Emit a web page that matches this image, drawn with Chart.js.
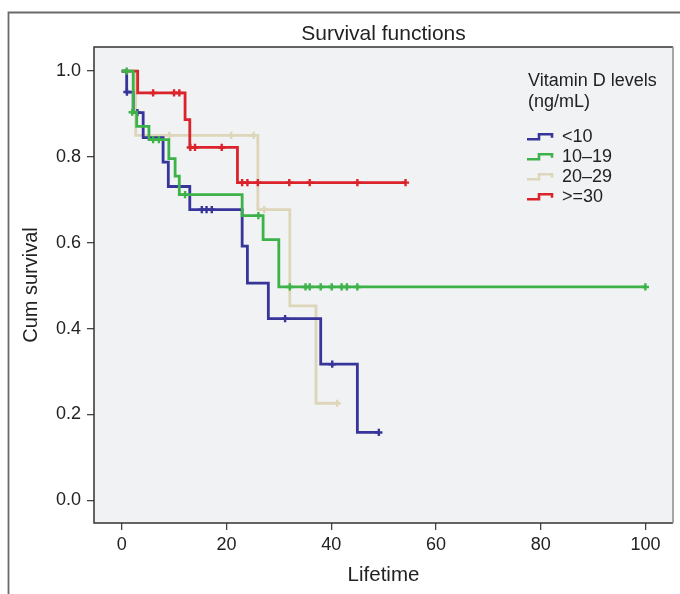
<!DOCTYPE html>
<html><head><meta charset="utf-8">
<script src="https://cdn.jsdelivr.net/npm/chart.js@4/dist/chart.umd.min.js"></script>
<style>html,body{margin:0;padding:0;background:#fff;overflow:hidden}canvas{display:block}</style>
</head><body>
<canvas id="c" width="680" height="594"></canvas>
<script>
const chartTitle = "Survival functions";
const xAxisTitle = "Lifetime";
const yAxisTitle = "Cum survival";
const legendTitle = ["Vitamin D levels", "(ng/mL)"];
const groupLabels = ["<10", "10\u201319", "20\u201329", ">=30"];
const groupColors = ["#37349a", "#3cb248", "#ddd6ba", "#da232a"];
const xTicks = [0, 20, 40, 60, 80, 100];
const yTicks = [0.0, 0.2, 0.4, 0.6, 0.8, 1.0];

// Kaplan-Meier steps: time of event and survival after it
const lt10Time = [0, 0.95, 2.2, 4.1, 7.9, 8.9, 13.0, 23.0, 24.0, 28.0, 38.0, 45.0, 49.1];
const lt10Surv = [1.0, 0.951, 0.903, 0.845, 0.788, 0.731, 0.677, 0.592, 0.506, 0.423, 0.317, 0.158, 0.158];
const lt10CensTime = [1.0, 3.0, 15.3, 16.2, 17.2, 31.2, 40.2, 49.1];
const lt10CensSurv = [0.951, 0.903, 0.677, 0.677, 0.677, 0.423, 0.317, 0.158];

const g10Time = [0, 2.2, 2.86, 5.2, 9.0, 10.2, 11.0, 23.0, 27.0, 30.0, 100];
const g10Surv = [1.0, 0.904, 0.871, 0.840, 0.796, 0.755, 0.712, 0.663, 0.607, 0.497, 0.497];
const g10CensTime = [0.95, 2.0, 6.0, 7.1, 12.1, 26.1, 32.1, 35.1, 35.9, 38.0, 40.1, 42.0, 43.0, 45.0, 100];
const g10CensSurv = [1.0, 0.904, 0.840, 0.840, 0.712, 0.663, 0.497, 0.497, 0.497, 0.497, 0.497, 0.497, 0.497, 0.497, 0.497];

const g20Time = [0, 2.67, 26.0, 32.1, 37.1, 41.15];
const g20Surv = [1.0, 0.850, 0.677, 0.453, 0.226, 0.226];
const g20CensTime = [9.1, 20.9, 25.2, 27.2, 41.15];
const g20CensSurv = [0.850, 0.850, 0.850, 0.677, 0.226];

const g30Time = [0, 3.05, 12.1, 13.0, 22.1, 54.2];
const g30Surv = [1.0, 0.949, 0.887, 0.822, 0.740, 0.740];
const g30CensTime = [6.0, 10.0, 11.0, 13.1, 14.0, 19.1, 23.0, 24.0, 26.0, 32.0, 35.9, 45.0, 54.2];
const g30CensSurv = [0.949, 0.949, 0.949, 0.822, 0.822, 0.822, 0.740, 0.740, 0.740, 0.740, 0.740, 0.740, 0.740];

const groups = [
  [lt10Time, lt10Surv, lt10CensTime, lt10CensSurv],
  [g10Time, g10Surv, g10CensTime, g10CensSurv],
  [g20Time, g20Surv, g20CensTime, g20CensSurv],
  [g30Time, g30Surv, g30CensTime, g30CensSurv]
];
const drawOrder = [1, 0, 3, 2];

const pts = (xs, ys) => xs.map((x, i) => ({x: x, y: ys[i]}));
const datasets = [];
groups.forEach((g, i) => {
  datasets.push({
    label: groupLabels[i], data: pts(g[0], g[1]), showLine: true, stepped: 'before',
    borderColor: groupColors[i], borderWidth: 2.8, pointRadius: 0, fill: false, order: drawOrder[i] * 2 + 1
  });
  datasets.push({
    label: groupLabels[i] + ' censored', data: pts(g[2], g[3]), showLine: false,
    pointStyle: 'cross', pointRadius: 3.6, pointBorderWidth: 2.4,
    borderColor: groupColors[i], backgroundColor: groupColors[i], order: drawOrder[i] * 2
  });
});

const FONT = "'Liberation Sans', Arial, Helvetica, sans-serif";

const decor = {
  id: 'decor',
  beforeDraw(chart) {
    const {ctx, chartArea: a} = chart;
    ctx.save();
    ctx.fillStyle = '#fff';
    ctx.fillRect(0, 0, chart.width, chart.height);
    ctx.strokeStyle = '#6a6a6a';
    ctx.lineWidth = 1.8;
    ctx.beginPath();
    ctx.moveTo(8.5, 594); ctx.lineTo(8.5, 12.5); ctx.lineTo(680, 12.5);
    ctx.stroke();
    ctx.fillStyle = '#f0f2f4';
    ctx.fillRect(a.left, a.top, a.right - a.left, a.bottom - a.top);
    ctx.restore();
  },
  afterDraw(chart) {
    const {ctx, chartArea: a} = chart;
    ctx.save();
    ctx.lineWidth = 1.5;
    ctx.strokeStyle = '#333';
    ctx.beginPath();
    ctx.moveTo(a.right, a.bottom); ctx.lineTo(a.left, a.bottom); ctx.lineTo(a.left, a.top); ctx.lineTo(a.right, a.top);
    ctx.stroke();
    ctx.strokeStyle = '#8a8a8a';
    ctx.beginPath();
    ctx.moveTo(a.right, a.top); ctx.lineTo(a.right, a.bottom);
    ctx.stroke();
    // title
    ctx.fillStyle = '#222';
    ctx.textBaseline = 'alphabetic';
    ctx.textAlign = 'center';
    ctx.font = '21px ' + FONT;
    ctx.fillText(chartTitle, (a.left + a.right) / 2, 40);
    // legend
    ctx.textAlign = 'left';
    ctx.font = '18px ' + FONT;
    ctx.fillText(legendTitle[0], 528, 86);
    ctx.fillText(legendTitle[1], 528, 107);
    groupLabels.forEach((lab, i) => {
      const base = 141.7 + i * 20;
      ctx.fillStyle = '#222';
      ctx.fillText(lab, 562, base);
      ctx.strokeStyle = groupColors[i];
      ctx.lineWidth = 2.6;
      ctx.beginPath();
      ctx.moveTo(527, base - 2.5);
      ctx.lineTo(539, base - 2.5);
      ctx.lineTo(539, base - 7.5);
      ctx.lineTo(552, base - 7.5);
      ctx.lineTo(552, base - 4);
      ctx.stroke();
    });
    ctx.restore();
  }
};

new Chart(document.getElementById('c'), {
  type: 'scatter',
  data: {datasets: datasets},
  options: {
    responsive: false,
    animation: false,
    devicePixelRatio: 1,
    layout: {padding: {top: 47, right: 7, left: 0, bottom: 0}},
    plugins: {legend: {display: false}, title: {display: false}, tooltip: {enabled: false}},
    scales: {
      x: {
        type: 'linear', min: -5.29, max: 105.27,
        afterFit(s) { s.height = 71; },
        afterBuildTicks(s) { s.ticks = xTicks.map(v => ({value: v})); },
        border: {display: false},
        grid: {drawOnChartArea: false, drawTicks: true, tickLength: 7, color: '#444', lineWidth: 1.3},
        ticks: {color: '#222', font: {family: FONT, size: 18}, padding: 4, maxRotation: 0, autoSkip: false,
                callback: v => String(v)},
        title: {display: true, text: xAxisTitle, color: '#222', font: {family: FONT, size: 20.5}, padding: {top: 0, bottom: 6}}
      },
      y: {
        type: 'linear', min: -0.053, max: 1.056,
        afterFit(s) { s.width = 94; },
        afterBuildTicks(s) { s.ticks = yTicks.map(v => ({value: v})); },
        border: {display: false},
        grid: {drawOnChartArea: false, drawTicks: true, tickLength: 7, color: '#444', lineWidth: 1.3},
        ticks: {color: '#222', font: {family: FONT, size: 18}, padding: 6, autoSkip: false,
                callback: v => Number(v).toFixed(1)},
        title: {display: true, text: yAxisTitle, color: '#222', font: {family: FONT, size: 20}, padding: {top: 19.5, bottom: 0}}
      }
    }
  },
  plugins: [decor]
});
</script>
</body></html>
